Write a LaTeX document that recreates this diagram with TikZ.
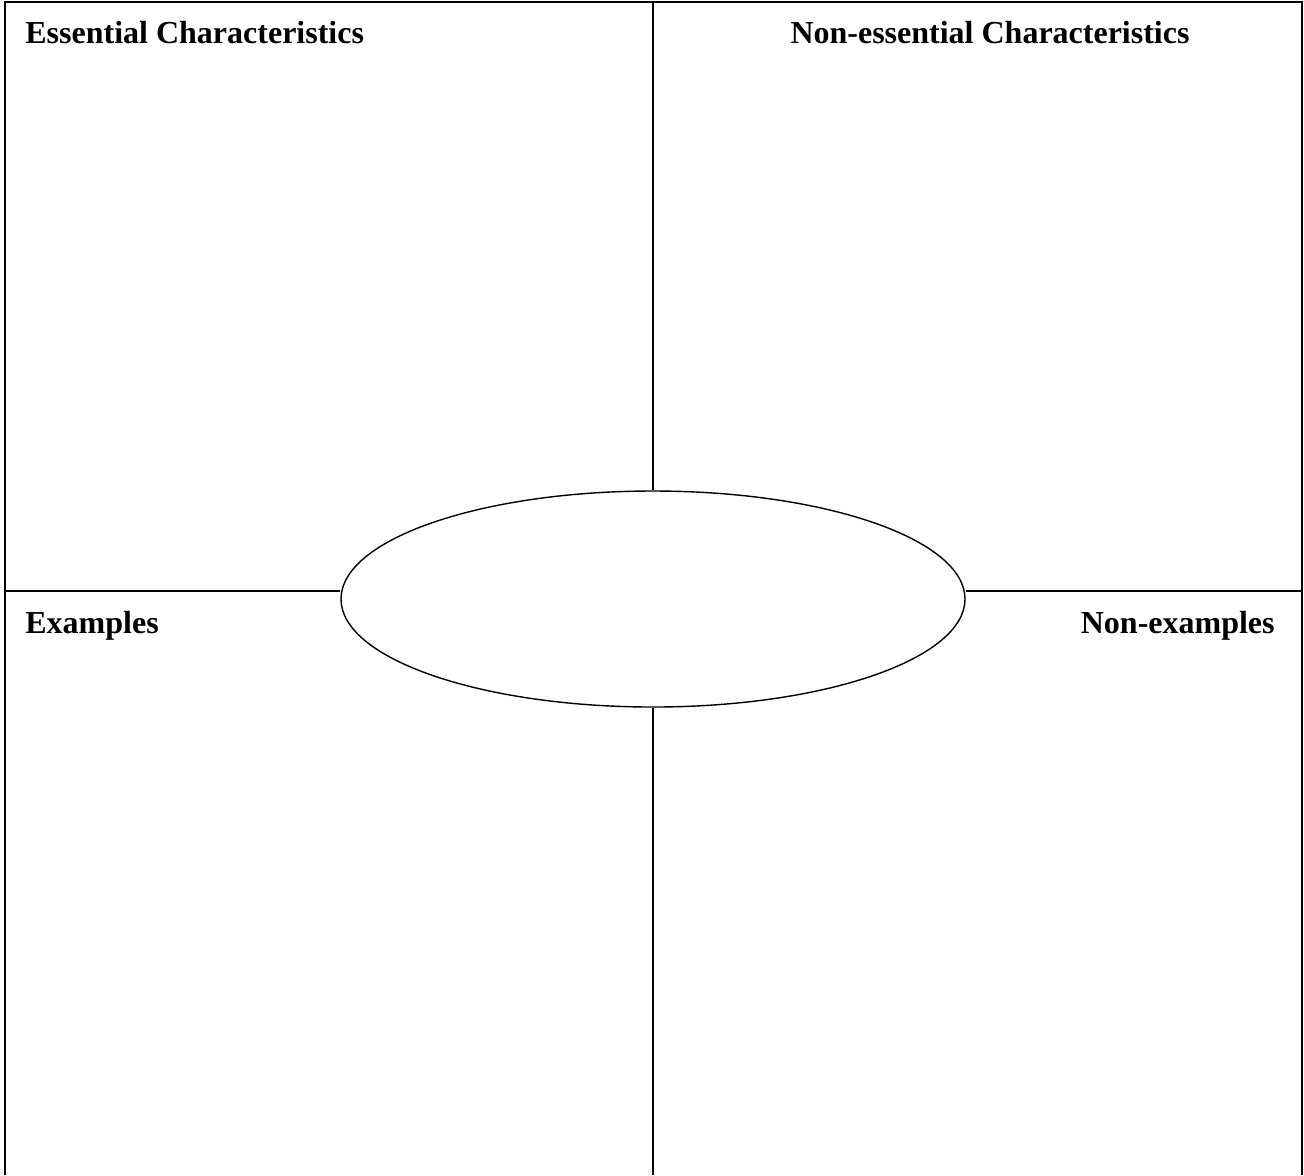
\documentclass[tikz,border=0pt]{standalone}
\usepackage{fontspec}
\setmainfont{Liberation Serif}
\usepackage{tikz}
\usetikzlibrary{shapes}
\tikzstyle{heading}=[font=\fontsize{16}{19}\selectfont\bfseries,inner sep=0pt]
\tikzstyle{edge} = [draw,line width=1pt,-]
\tikzstyle{concept}=[ellipse,draw,line width=0.7pt,minimum width=312pt,minimum height=108pt,inner sep=0pt]

\begin{document}
\begin{tikzpicture}[x=0.5pt,y=-0.5pt]
        \useasboundingbox (0,0) rectangle (1304,1175);
        % frame corners and middles
        \coordinate (tl) at (5,1.5);
        \coordinate (tr) at (1301.5,1.5);
        \coordinate (bl) at (5,1175);
        \coordinate (br) at (1301.5,1175);
        \coordinate (tm) at (653,1.5);
        \coordinate (bm) at (653,1175);
        \coordinate (lm) at (5,591);
        \coordinate (rm) at (1301.5,591);
        \draw[edge] (bl) -- (tl) -- (tr) -- (br);

        \node[concept] (word) at (653,599) {};
        \draw[edge] (tm) to (word.north);
        \draw[edge] (word.south) to (bm);
        \draw[edge] (lm) to (word.west |- lm);
        \draw[edge] (word.east |- rm) to (rm);

        \node[heading,anchor=base west] (ess) at (25,43) {Essential Characteristics};
        \node[heading,anchor=base] (noness) at (990,43) {Non-essential Characteristics};
        \node[heading,anchor=base west] (ex) at (25,633) {Examples};
        \node[heading,anchor=base east] (nonex) at (1275,633) {Non-examples};
\end{tikzpicture}
\end{document}
